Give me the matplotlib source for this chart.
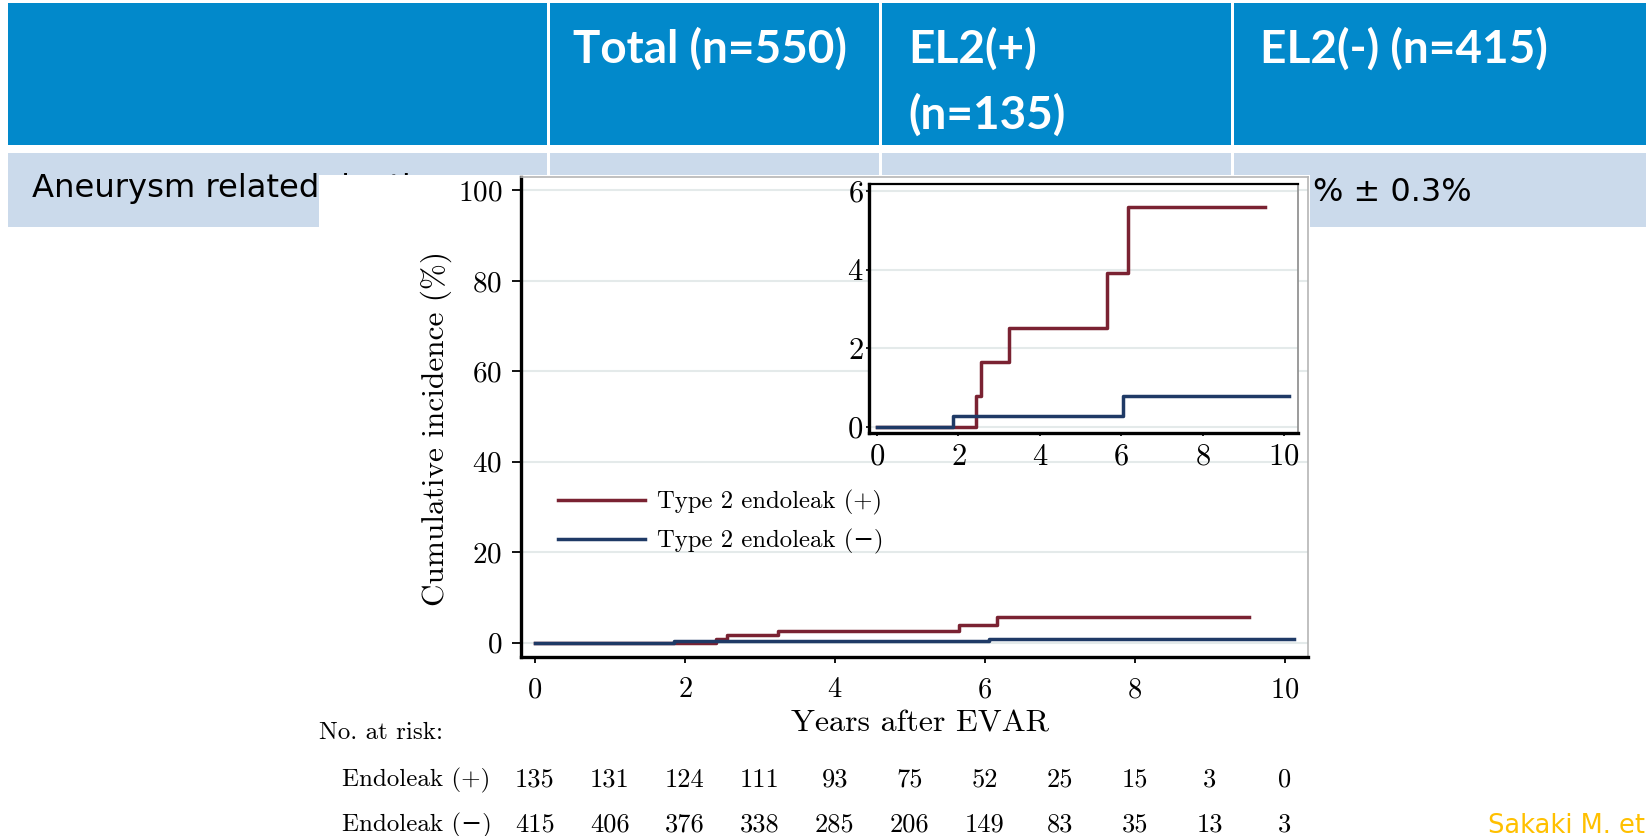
import matplotlib.pyplot as plt
import matplotlib.transforms as mtransforms
from matplotlib.patches import Rectangle

plt.rcParams['font.family'] = ['cmr10', 'DejaVu Serif']
plt.rcParams['axes.formatter.use_mathtext'] = True

W, H = 1647, 836  # slide size in pixels

# cumulative incidence (%)
el_pos_t = [0, 2.42, 2.56, 3.24, 5.65, 6.16, 9.52]
el_pos_y = [0, 0.80, 1.65, 2.53, 3.93, 5.60, 5.60]
el_neg_t = [0, 1.86, 6.05, 10.12]
el_neg_y = [0, 0.27, 0.80, 0.80]

# number at risk
risk_years = [0, 1, 2, 3, 4, 5, 6, 7, 8, 9, 10]
risk_pos = [135, 131, 124, 111, 93, 75, 52, 25, 15, 3, 0]
risk_neg = [415, 406, 376, 338, 285, 206, 149, 83, 35, 13, 3]

# slide table
header_labels = ['Total (n=550)', 'EL2(+)\n(n=135)', 'EL2(-) (n=415)']
row_label = 'Aneurysm related death'
row_tail = '% ± 0.3%'

blue = '#0289cb'
light = '#cbdaeb'
red = '#7a2232'
navy = '#1f3a66'


def fx(x):
    return x / W


def fy(y):
    return 1 - y / H


def rect(x0, y0, x1, y1, color, z):
    fig.patches.append(Rectangle((fx(x0), fy(y1)), (x1 - x0) / W, (y1 - y0) / H,
                                 transform=fig.transFigure, facecolor=color,
                                 edgecolor='none', zorder=z))


fig = plt.figure(figsize=(W / 100, H / 100), dpi=100)

# table background
col_edges = [8, 548, 880, 1232, 1647]
for i in range(4):
    rect(col_edges[i] + (2 if i else 0), 3, col_edges[i + 1] - 1, 145, blue, 1)
    rect(col_edges[i] + (2 if i else 0), 153, col_edges[i + 1] - 1, 227, light, 1)

# header texts
hx = [573, 908, 1260]
for x, lab in zip(hx, header_labels):
    for k, line in enumerate(lab.split('\n')):
        fig.text(fx(x), fy(63 + 66 * k), line, color='white', fontsize=33,
                 weight='bold', family='Lato', va='baseline', zorder=3)

fig.text(fx(32), fy(197), row_label, fontsize=23.2, family='DejaVu Sans',
         va='baseline', zorder=3)
fig.text(fx(1313), fy(201), row_tail, fontsize=23, family='DejaVu Sans',
         va='baseline', zorder=3)

# white background of the pasted figure
rect(319, 175, 1310, 836, 'white', 4)

# main axes
ax = fig.add_axes([fx(521), fy(657), (1308 - 521) / W, (657 - 177) / H])
ax.set_zorder(5)
ax.step(el_pos_t, el_pos_y, where='post', color=red, lw=2.5, label='Type 2 endoleak (+)')
ax.step(el_neg_t, el_neg_y, where='post', color=navy, lw=2.5, label='Type 2 endoleak (\u2212)')
ax.set_xlim(-0.187, 10.31)
ax.set_ylim(-3.2, 102.98)
ax.set_xticks([0, 2, 4, 6, 8, 10])
ax.set_yticks([0, 20, 40, 60, 80, 100])
ax.grid(axis='y', color='#e4eaea', lw=1.5)
ax.set_axisbelow(True)
for s in ['left', 'bottom']:
    ax.spines[s].set_linewidth(2.4)
for s in ['top', 'right']:
    ax.spines[s].set_color('#b5b5b5')
    ax.spines[s].set_linewidth(1.2)
ax.tick_params(axis='y', length=6.5, width=1.3, pad=7, labelsize=21)
ax.tick_params(axis='x', length=4.5, width=1.3, pad=10, labelsize=20.5)
ax.set_ylabel('Cumulative incidence (%)', fontsize=22.5)
ax.yaxis.set_label_coords(-0.088, 0.475)
ax.set_xlabel('Years after EVAR', fontsize=23)
ax.xaxis.set_label_coords(0.507, -0.11)
ax.legend(loc='upper left', bbox_to_anchor=(fx(558), fy(490)), bbox_transform=fig.transFigure,
          frameon=False, fontsize=17.8, handlelength=3.5, handletextpad=0.5,
          labelspacing=0.55, borderpad=0, borderaxespad=0)

# inset
axi = fig.add_axes([fx(869), fy(433), (1298 - 869) / W, (433 - 184) / H])
axi.set_zorder(6)
axi.step(el_pos_t, el_pos_y, where='post', color=red, lw=2.5)
axi.step(el_neg_t, el_neg_y, where='post', color=navy, lw=2.5)
axi.set_xlim(-0.197, 10.34)
axi.set_ylim(-0.15, 6.18)
axi.set_xticks([0, 2, 4, 6, 8, 10])
axi.set_yticks([0, 2, 4, 6])
axi.grid(axis='y', color='#e4eaea', lw=1.5)
axi.set_axisbelow(True)
for s in ['left', 'bottom']:
    axi.spines[s].set_linewidth(2.4)
axi.spines['top'].set_linewidth(1.6)
axi.spines['right'].set_color('#8a8a8a')
axi.spines['right'].set_linewidth(1.2)
axi.tick_params(axis='y', length=2.5, width=1.2, pad=1.5, labelsize=22)
axi.tick_params(axis='x', length=2.5, width=1.2, pad=5, labelsize=22)

# number at risk table
trans = mtransforms.blended_transform_factory(ax.transData, fig.transFigure)
fig.text(fx(319), fy(733), 'No. at risk:', fontsize=18, va='center', zorder=7)
fig.text(fx(342), fy(780), 'Endoleak (+)', fontsize=18, va='center', zorder=7)
fig.text(fx(342), fy(825), 'Endoleak (\u2212)', fontsize=18, va='center', zorder=7)
for yr, a, b in zip(risk_years, risk_pos, risk_neg):
    fig.text(yr, fy(780), str(a), transform=trans, fontsize=19, ha='center', va='center', zorder=7)
    fig.text(yr, fy(825), str(b), transform=trans, fontsize=19, ha='center', va='center', zorder=7)

fig.text(fx(1488), fy(813), 'Sakaki M. et', color='#ffc000', fontsize=18.5,
         family='DejaVu Sans', va='top', zorder=7)

fig.savefig('out.png', dpi=100)
